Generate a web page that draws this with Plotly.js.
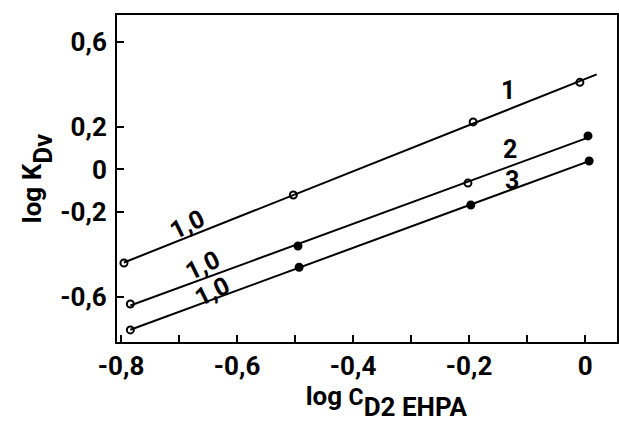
<!DOCTYPE html>
<html>
<head>
<meta charset="utf-8">
<script src="https://cdn.plot.ly/plotly-3.0.1.min.js"></script>
<style>html,body{margin:0;padding:0;background:#fff;}#chart{width:619px;height:422px;}</style>
</head>
<body>
<div id="chart"></div>
<script>
// Series (log C_D2EHPA vs log K_Dv)
const xs1 = [-0.795, -0.503, -0.193, -0.009];
const ys1 = [-0.44, -0.12, 0.224, 0.41];
const xs2 = [-0.784, -0.495, -0.202, 0.005];
const ys2 = [-0.633, -0.36, -0.064, 0.158];
const xs3 = [-0.784, -0.493, -0.197, 0.007];
const ys3 = [-0.755, -0.46, -0.167, 0.04];
const lineEnds = [0.02, 0.005, 0.007];
const seriesNames = ["1", "2", "3"];
const slopeLabels = ["1,0", "1,0", "1,0"];
const xTickVals = [-0.8, -0.6, -0.4, -0.2, 0];
const xTickText = ["-0,8", "-0,6", "-0,4", "-0,2", "0"];
const yTickVals = [0.6, 0.2, 0, -0.2, -0.6];
const yTickText = ["0,6", "0,2", "0", "-0,2", "-0,6"];

const FONT = "Roboto, 'Liberation Sans', sans-serif";

function fit(xs, ys) {
  const n = xs.length;
  const mx = xs.reduce((a, b) => a + b, 0) / n;
  const my = ys.reduce((a, b) => a + b, 0) / n;
  let sxy = 0, sxx = 0;
  for (let i = 0; i < n; i++) { sxy += (xs[i] - mx) * (ys[i] - my); sxx += (xs[i] - mx) ** 2; }
  const b = sxy / sxx;
  return x => my + b * (x - mx);
}

const series = [[xs1, ys1], [xs2, ys2], [xs3, ys3]];
const symbols = [
  ["circle-open", "circle-open", "circle-open", "circle-open"],
  ["circle-open", "circle", "circle-open", "circle"],
  ["circle-open", "circle", "circle", "circle"]
];

const traces = [];
series.forEach(([xs, ys], i) => {
  const f = fit(xs, ys);
  const lx = [xs[0], lineEnds[i]];
  traces.push({
    x: lx, y: lx.map(f), mode: "lines", type: "scatter",
    line: {color: "#000", width: 2}, hoverinfo: "skip", showlegend: false
  });
  traces.push({
    x: xs, y: ys, mode: "markers", type: "scatter", name: seriesNames[i],
    marker: {symbol: symbols[i], size: 7, color: "#000", line: {color: "#000", width: 2}},
    showlegend: false
  });
});

const annFont = {family: FONT, size: 25, color: "#000", weight: 700};
const annotations = [
  {x: -0.133, y: 0.374, text: seriesNames[0]},
  {x: -0.129, y: 0.096, text: seriesNames[1]},
  {x: -0.126, y: -0.05, text: seriesNames[2]},
  {x: -0.686, y: -0.261, text: slopeLabels[0], textangle: -26},
  {x: -0.66, y: -0.45, text: slopeLabels[1], textangle: -26},
  {x: -0.643, y: -0.576, text: slopeLabels[2], textangle: -26}
].map(a => Object.assign({xref: "x", yref: "y", showarrow: false, font: annFont}, a));

const tickFont = {family: FONT, size: 26, color: "#000", weight: 700};
const titleFont = {family: FONT, size: 26, color: "#000", weight: 700};

const layout = {
  width: 619, height: 422,
  margin: {l: 117, r: 2, t: 15, b: 80},
  paper_bgcolor: "#fff", plot_bgcolor: "#fff",
  font: {family: FONT, size: 26, color: "#000"},
  showlegend: false,
  xaxis: {
    range: [-0.807, 0.055],
    tickmode: "array", tickvals: xTickVals, ticktext: xTickText,
    ticks: "inside", ticklen: 7, tickwidth: 2, tickcolor: "#000",
    minor: {tick0: 0, dtick: 0.1, ticks: "inside", ticklen: 7, tickwidth: 2, tickcolor: "#000", showgrid: false},
    showgrid: false, zeroline: false,
    showline: true, linecolor: "#000", linewidth: 2, mirror: true,
    tickfont: tickFont,
    ticklabelstandoff: 0,
    title: {
      text: "&nbsp;&nbsp;&nbsp;&nbsp;&nbsp;&nbsp;<sup><span style='font-size:26px'>log </span><span style='font-size:23px'>C</span></sup>D2 EHPA",
      font: titleFont,
      standoff: 9
    }
  },
  yaxis: {
    range: [-0.812, 0.727],
    tickmode: "array", tickvals: yTickVals, ticktext: yTickText,
    ticks: "inside", ticklen: 7, tickwidth: 2, tickcolor: "#000",
    showgrid: false, zeroline: false,
    showline: true, linecolor: "#000", linewidth: 2, mirror: true,
    tickfont: tickFont,
    ticklabelstandoff: 3,
    title: {
      text: "<sup><span style='font-size:26px'>log K</span></sup>Dv",
      font: titleFont,
      standoff: 0
    }
  },
  annotations: annotations
};

Plotly.newPlot("chart", traces, layout, {staticPlot: true, displayModeBar: false});
</script>
</body>
</html>
